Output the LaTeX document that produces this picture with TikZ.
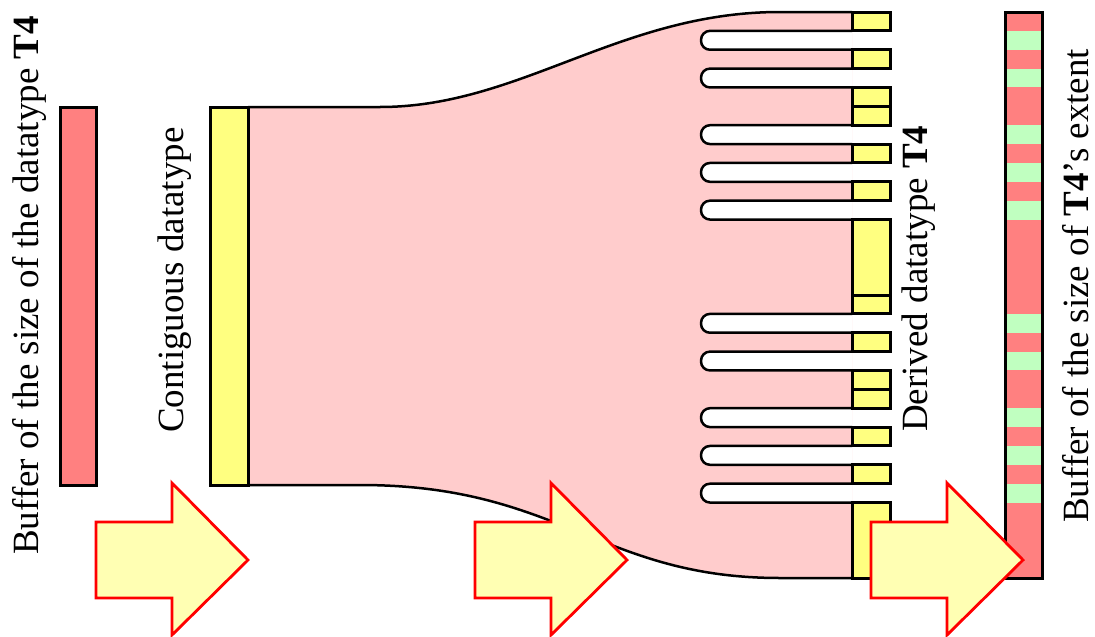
\documentclass[tikz,border=0pt]{standalone}
\usepackage{fontspec}
\setmainfont{Liberation Serif}
\definecolor{bufred}{HTML}{FF8080}
\definecolor{pinkfill}{HTML}{FFCCCC}
\definecolor{colyellow}{HTML}{FFFF80}
\definecolor{arrowfill}{HTML}{FFFFB3}
\definecolor{stripegreen}{HTML}{C0FFC0}
\begin{document}
\begin{tikzpicture}[x=1pt,y=-1pt,
  box/.style={draw=black,line width=3pt},
  flow/.style={draw=black,line width=2.5pt},
  bigarrow/.style={draw=red,line width=2.8pt,fill=arrowfill,line join=miter},
  lbl/.style={rotate=90,anchor=base west,font=\fontsize{37}{40}\selectfont,inner sep=0pt}]
\useasboundingbox (0,0) rectangle (1095,637);
\def\u{18.867}
% pink flow shape
\fill[pinkfill] (248,107) -- (380,107) .. controls (520,107) and (620,12) .. (780,12) -- (852,12)
  -- (852,578) -- (780,578) .. controls (600,578) and (560,485) .. (360,485) -- (248,485) -- cycle;
\draw[flow] (248,107) -- (380,107) .. controls (520,107) and (620,12) .. (780,12) -- (852,12);
\draw[flow] (248,485) -- (360,485) .. controls (560,485) and (600,578) .. (780,578) -- (852,578);
% fingers (holes)
\foreach \k in {1,3,6,8,10,16,18,21,23,25}{
  \draw[flow,fill=white,rounded corners=9pt] (852,{12+\k*\u}) -- (701,{12+\k*\u})
    -- (701,{12+(\k+1)*\u}) -- (852,{12+(\k+1)*\u});
}
% derived datatype column
\foreach \a/\b in {0/1,2/3,4/5,5/6,7/8,9/10,11/15,15/16,17/18,19/20,20/21,22/23,24/25,26/30}{
  \draw[box,fill=colyellow] (852,{12+\a*\u}) rectangle (890,{12+\b*\u});
}
% right buffer
\fill[bufred] (1005,12) rectangle (1042,578);
\foreach \k in {1,3,6,8,10,16,18,21,23,25}{
  \fill[stripegreen] (1005,{12+\k*\u}) rectangle (1042,{12+(\k+1)*\u});
}
\draw[box] (1005,12) rectangle (1042,578);
% left buffer and contiguous datatype
\draw[box,fill=bufred] (60,107) rectangle (96,485);
\draw[box,fill=colyellow] (210,107) rectangle (248,485);
% big arrows
\foreach \x in {96,475,871}{
  \draw[bigarrow] (\x,522) -- ++(76,0) -- ++(0,-39) -- ++(76,77) -- ++(-76,75) -- ++(0,-37) -- ++(-76,0) -- cycle;
}
% labels
\node[lbl] (t1) at (38,555) {Buffer of the size of the datatype \textbf{T4}};
\node[lbl] (t2) at (183,433) {Contiguous datatype};
\node[lbl] (t3) at (927,432) {Derived datatype \textbf{T4}};
\node[lbl] (t4) at (1088,523) {Buffer of the size of \textbf{T4}’s extent};
\end{tikzpicture}
\end{document}
